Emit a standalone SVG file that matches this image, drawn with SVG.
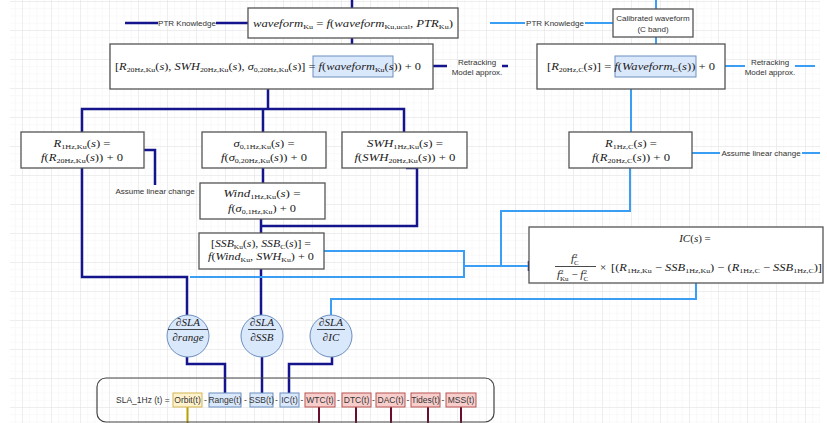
<svg xmlns="http://www.w3.org/2000/svg" width="827" height="423" viewBox="0 0 827 423">
<style>
.box{fill:#fff;stroke:#555;stroke-width:1.3}
.hb{fill:#dae8fc;stroke:#6c8ebf;stroke-width:1}
.hy{fill:#fff2cc;stroke:#d6b656;stroke-width:1}
.hr{fill:#f8cecc;stroke:#b85450;stroke-width:1}
.circ{fill:#dae8fc;stroke:#6c8ebf;stroke-width:1}
.d{fill:none;stroke:#14148c;stroke-width:2.5}
.l{fill:none;stroke:#3b9ef5;stroke-width:2}
.m{font-family:"Liberation Serif","DejaVu Serif",serif;font-size:11px;fill:#1a1a1a}
.i{font-style:italic}
.s{font-size:7px;font-style:normal}
.t{font-family:"Liberation Sans",Arial,sans-serif;font-size:8px;fill:#333}
.b{font-family:"Liberation Sans",Arial,sans-serif;font-size:8.5px;fill:#333}
</style>
<defs>
<pattern id="gmin" width="7.25" height="7.25" patternUnits="userSpaceOnUse" x="22" y="1"><path d="M0 0V7.25M0 0H7.25" stroke="#f3f3f3" stroke-width="1" fill="none"/></pattern>
<pattern id="gmaj" width="29" height="29" patternUnits="userSpaceOnUse" x="22" y="1"><path d="M0 0V29M0 0H29" stroke="#e3e3e3" stroke-width="1" fill="none"/></pattern>
</defs>
<rect width="827" height="423" fill="#fff"/>
<rect x="10" y="0" width="810" height="423" fill="url(#gmin)"/>
<rect x="10" y="0" width="810" height="423" fill="url(#gmaj)"/>

<g id="connectors">
<path class="d" d="M352,0V8"/>
<path class="d" d="M125,23H158M216,23H248"/>
<path class="d" d="M352,38V44"/>
<path class="d" d="M433,66H447M502,66H508"/>
<path class="d" d="M268,89V109M82,132V109H404V132M263,109V132"/>
<path class="d" d="M144,150H155V185"/>
<path class="d" d="M263,168V183"/>
<path class="d" d="M406,168H417V226H261M261,219V233"/>
<path class="d" d="M82,168V277H187V315"/>
<path class="d" d="M261,269V315"/>
<path class="d" d="M187,357V364H225V393"/>
<path class="d" d="M262,357V393"/>
<path class="d" d="M332,357V364H289V393"/>
<path class="d" d="M529,261V271" stroke-width="2"/>
<path class="l" d="M656,0V9"/>
<path class="l" d="M490,23H525M585,23H613"/>
<path class="l" d="M656,37V44"/>
<path class="l" d="M725,66H745M795,66H815"/>
<path class="l" d="M631,89V132"/>
<path class="l" d="M692,153H720M802,153H820"/>
<path class="l" d="M630,168V211H501V266"/>
<path class="l" d="M324,251H464V277H190"/>
<path class="l" d="M464,266H528"/>
<path class="l" d="M696,283V299H331V315"/>
<path d="M187.5,407V423" stroke="#b5a000" stroke-width="2"/>
<path d="M319,407V423M356,407V423M391,407V423M428,407V423M461,407V423" stroke="#6a0d2e" stroke-width="2"/>
</g>

<g id="labels">
<text class="t" x="187" y="26" text-anchor="middle">PTR Knowledge</text>
<text class="t" x="555" y="26" text-anchor="middle">PTR Knowledge</text>
<text class="t" x="477" y="65" text-anchor="middle" font-size="7.5">Retracking</text>
<text class="t" x="477" y="75" text-anchor="middle" font-size="7.5">Model approx.</text>
<text class="t" x="770" y="65" text-anchor="middle" font-size="7.5">Retracking</text>
<text class="t" x="770" y="75" text-anchor="middle" font-size="7.5">Model approx.</text>
<text class="t" x="155" y="194" text-anchor="middle">Assume linear change</text>
<text class="t" x="761" y="156" text-anchor="middle">Assume linear change</text>
</g>

<g id="n-waveform-ku">
<rect class="box" x="248" y="8" width="210" height="30"/>
<text class="m" x="353" y="27" text-anchor="middle" textLength="200" lengthAdjust="spacingAndGlyphs"><tspan class="i">waveform</tspan><tspan class="s" dy="2">Ku</tspan><tspan dy="-2"> = </tspan><tspan class="i">f</tspan><tspan>(</tspan><tspan class="i">waveform</tspan><tspan class="s" dy="2">Ku,ucal</tspan><tspan dy="-2">, </tspan><tspan class="i">PTR</tspan><tspan class="s" dy="2">Ku</tspan><tspan dy="-2">)</tspan></text>
</g>

<g id="n-retrack-ku">
<rect class="box" x="110" y="44" width="323" height="45"/>
<rect class="hb" x="313" y="56" width="80" height="21"/>
<text class="m" x="268" y="70" text-anchor="middle" textLength="306" lengthAdjust="spacingAndGlyphs"><tspan>[</tspan><tspan class="i">R</tspan><tspan class="s" dy="2">20Hz,Ku</tspan><tspan dy="-2">(</tspan><tspan class="i">s</tspan><tspan>), </tspan><tspan class="i">SWH</tspan><tspan class="s" dy="2">20Hz,Ku</tspan><tspan dy="-2">(</tspan><tspan class="i">s</tspan><tspan>), </tspan><tspan class="i">σ</tspan><tspan class="s" dy="2">0,20Hz,Ku</tspan><tspan dy="-2">(</tspan><tspan class="i">s</tspan><tspan>)] = </tspan><tspan class="i">f</tspan><tspan>(</tspan><tspan class="i">waveform</tspan><tspan class="s" dy="2">Ku</tspan><tspan dy="-2">(</tspan><tspan class="i">s</tspan><tspan>)) + 0</tspan></text>
</g>

<g id="n-r1hz-ku">
<rect class="box" x="21" y="132" width="123" height="36"/>
<text class="m" x="82" y="147" text-anchor="middle" textLength="57" lengthAdjust="spacingAndGlyphs"><tspan class="i">R</tspan><tspan class="s" dy="2">1Hz,Ku</tspan><tspan dy="-2">(</tspan><tspan class="i">s</tspan><tspan>) =</tspan></text>
<text class="m" x="82" y="161" text-anchor="middle" textLength="82" lengthAdjust="spacingAndGlyphs"><tspan class="i">f</tspan><tspan>(</tspan><tspan class="i">R</tspan><tspan class="s" dy="2">20Hz,Ku</tspan><tspan dy="-2">(</tspan><tspan class="i">s</tspan><tspan>)) + 0</tspan></text>
</g>

<g id="n-sigma">
<rect class="box" x="202" y="132" width="124" height="36"/>
<text class="m" x="264" y="147" text-anchor="middle" textLength="61" lengthAdjust="spacingAndGlyphs"><tspan class="i">σ</tspan><tspan class="s" dy="2">0,1Hz,Ku</tspan><tspan dy="-2">(</tspan><tspan class="i">s</tspan><tspan>) =</tspan></text>
<text class="m" x="264" y="161" text-anchor="middle" textLength="86" lengthAdjust="spacingAndGlyphs"><tspan class="i">f</tspan><tspan>(</tspan><tspan class="i">σ</tspan><tspan class="s" dy="2">0,20Hz,Ku</tspan><tspan dy="-2">(</tspan><tspan class="i">s</tspan><tspan>)) + 0</tspan></text>
</g>

<g id="n-swh">
<rect class="box" x="342" y="132" width="125" height="36"/>
<text class="m" x="405" y="147" text-anchor="middle" textLength="76" lengthAdjust="spacingAndGlyphs"><tspan class="i">SWH</tspan><tspan class="s" dy="2">1Hz,Ku</tspan><tspan dy="-2">(</tspan><tspan class="i">s</tspan><tspan>) =</tspan></text>
<text class="m" x="405" y="161" text-anchor="middle" textLength="101" lengthAdjust="spacingAndGlyphs"><tspan class="i">f</tspan><tspan>(</tspan><tspan class="i">SWH</tspan><tspan class="s" dy="2">20Hz,Ku</tspan><tspan dy="-2">(</tspan><tspan class="i">s</tspan><tspan>)) + 0</tspan></text>
</g>

<g id="n-wind">
<rect class="box" x="200" y="183" width="125" height="36"/>
<text class="m" x="262" y="197" text-anchor="middle" textLength="77" lengthAdjust="spacingAndGlyphs"><tspan class="i">Wind</tspan><tspan class="s" dy="2">1Hz,Ku</tspan><tspan dy="-2">(</tspan><tspan class="i">s</tspan><tspan>) =</tspan></text>
<text class="m" x="262" y="212" text-anchor="middle" textLength="68" lengthAdjust="spacingAndGlyphs"><tspan class="i">f</tspan><tspan>(</tspan><tspan class="i">σ</tspan><tspan class="s" dy="2">0,1Hz,Ku</tspan><tspan dy="-2">) + 0</tspan></text>
</g>

<g id="n-ssb">
<rect class="box" x="199" y="233" width="125" height="36"/>
<text class="m" x="261" y="247" text-anchor="middle" textLength="100" lengthAdjust="spacingAndGlyphs"><tspan>[</tspan><tspan class="i">SSB</tspan><tspan class="s" dy="2">Ku</tspan><tspan dy="-2">(</tspan><tspan class="i">s</tspan><tspan>), </tspan><tspan class="i">SSB</tspan><tspan class="s" dy="2">C</tspan><tspan dy="-2">(</tspan><tspan class="i">s</tspan><tspan>)] =</tspan></text>
<text class="m" x="261" y="260" text-anchor="middle" textLength="106" lengthAdjust="spacingAndGlyphs"><tspan class="i">f</tspan><tspan>(</tspan><tspan class="i">Wind</tspan><tspan class="s" dy="2">Ku</tspan><tspan dy="-2">, </tspan><tspan class="i">SWH</tspan><tspan class="s" dy="2">Ku</tspan><tspan dy="-2">) + 0</tspan></text>
</g>

<g id="n-calib-c">
<rect class="box" x="613" y="9" width="80" height="28"/>
<text class="t" x="653" y="21" text-anchor="middle">Calibrated waveform</text>
<text class="t" x="653" y="32" text-anchor="middle">(C band)</text>
</g>

<g id="n-retrack-c">
<rect class="box" x="537" y="44" width="188" height="45"/>
<rect class="hb" x="615" y="56" width="81" height="21"/>
<text class="m" x="631" y="70" text-anchor="middle" textLength="168" lengthAdjust="spacingAndGlyphs"><tspan>[</tspan><tspan class="i">R</tspan><tspan class="s" dy="2">20Hz,C</tspan><tspan dy="-2">(</tspan><tspan class="i">s</tspan><tspan>)] = </tspan><tspan class="i">f</tspan><tspan>(</tspan><tspan class="i">Waveform</tspan><tspan class="s" dy="2">C</tspan><tspan dy="-2">(</tspan><tspan class="i">s</tspan><tspan>)) + 0</tspan></text>
</g>

<g id="n-r1hz-c">
<rect class="box" x="569" y="132" width="123" height="36"/>
<text class="m" x="631" y="147" text-anchor="middle" textLength="52" lengthAdjust="spacingAndGlyphs"><tspan class="i">R</tspan><tspan class="s" dy="2">1Hz,C</tspan><tspan dy="-2">(</tspan><tspan class="i">s</tspan><tspan>) =</tspan></text>
<text class="m" x="631" y="161" text-anchor="middle" textLength="78" lengthAdjust="spacingAndGlyphs"><tspan class="i">f</tspan><tspan>(</tspan><tspan class="i">R</tspan><tspan class="s" dy="2">20Hz,C</tspan><tspan dy="-2">(</tspan><tspan class="i">s</tspan><tspan>)) + 0</tspan></text>
</g>

<g id="n-ic">
<rect class="box" x="529" y="227" width="294" height="56"/>
<text class="m" x="695" y="242" text-anchor="middle"><tspan class="i">IC</tspan><tspan>(</tspan><tspan class="i">s</tspan><tspan>) =</tspan></text>
<text class="m" x="571" y="262"><tspan class="i">f</tspan><tspan class="s" dy="-4">2</tspan><tspan class="s" dx="-3.5" dy="7">C</tspan></text>
<line x1="555" y1="266.5" x2="596" y2="266.5" stroke="#1a1a1a" stroke-width="0.8"/>
<text class="m" x="557" y="278"><tspan class="i">f</tspan><tspan class="s" dy="-4">2</tspan><tspan class="s" dx="-3.5" dy="7">Ku</tspan><tspan dy="-3"> − </tspan><tspan class="i">f</tspan><tspan class="s" dy="-4">2</tspan><tspan class="s" dx="-3.5" dy="7">C</tspan></text>
<text class="m" x="600" y="271">×</text>
<text class="m" x="611" y="271" textLength="211" lengthAdjust="spacingAndGlyphs"><tspan>[(</tspan><tspan class="i">R</tspan><tspan class="s" dy="2">1Hz,Ku</tspan><tspan dy="-2"> − </tspan><tspan class="i">SSB</tspan><tspan class="s" dy="2">1Hz,Ku</tspan><tspan dy="-2">) − (</tspan><tspan class="i">R</tspan><tspan class="s" dy="2">1Hz,C</tspan><tspan dy="-2"> − </tspan><tspan class="i">SSB</tspan><tspan class="s" dy="2">1Hz,C</tspan><tspan dy="-2">)]</tspan></text>
</g>

<g id="n-dsla-range">
<circle class="circ" cx="188" cy="336" r="21"/>
<text class="m i" x="188" y="326" text-anchor="middle" font-size="10.5">∂SLA</text>
<line x1="168" y1="329.5" x2="208" y2="329.5" stroke="#1a1a1a" stroke-width="0.8"/>
<text class="m i" x="188" y="341" text-anchor="middle" font-size="10.5">∂range</text>
</g>
<g id="n-dsla-ssb">
<circle class="circ" cx="262" cy="336" r="21"/>
<text class="m i" x="262" y="326" text-anchor="middle" font-size="10.5">∂SLA</text>
<line x1="248" y1="329.5" x2="276" y2="329.5" stroke="#1a1a1a" stroke-width="0.8"/>
<text class="m i" x="262" y="341" text-anchor="middle" font-size="10.5">∂SSB</text>
</g>
<g id="n-dsla-ic">
<circle class="circ" cx="331" cy="336" r="21"/>
<text class="m i" x="331" y="326" text-anchor="middle" font-size="10.5">∂SLA</text>
<line x1="317" y1="329.5" x2="345" y2="329.5" stroke="#1a1a1a" stroke-width="0.8"/>
<text class="m i" x="331" y="341" text-anchor="middle" font-size="10.5">∂IC</text>
</g>

<g id="n-sla">
<rect x="97" y="378" width="397" height="44" rx="9" fill="none" stroke="#444" stroke-width="1.2"/>
<rect class="hy" x="173" y="393" width="29" height="14"/>
<rect class="hb" x="209" y="393" width="32" height="14"/>
<rect class="hb" x="250" y="393" width="23" height="14"/>
<rect class="hb" x="280" y="393" width="19" height="14"/>
<rect class="hr" x="305" y="393" width="30" height="14"/>
<rect class="hr" x="342" y="393" width="29" height="14"/>
<rect class="hr" x="376" y="393" width="29" height="14"/>
<rect class="hr" x="411" y="393" width="29" height="14"/>
<rect class="hr" x="446" y="393" width="30" height="14"/>
<text class="b" x="116" y="403">SLA_1Hz (t) = </text>
<text class="b" x="187.5" y="403" text-anchor="middle">Orbit(t)</text>
<text class="b" x="205.5" y="403" text-anchor="middle">-</text>
<text class="b" x="225" y="403" text-anchor="middle">Range(t)</text>
<text class="b" x="245.5" y="403" text-anchor="middle">-</text>
<text class="b" x="261.5" y="403" text-anchor="middle">SSB(t)</text>
<text class="b" x="276.5" y="403" text-anchor="middle">-</text>
<text class="b" x="289.5" y="403" text-anchor="middle">IC(t)</text>
<text class="b" x="302" y="403" text-anchor="middle">-</text>
<text class="b" x="320" y="403" text-anchor="middle">WTC(t)</text>
<text class="b" x="338.5" y="403" text-anchor="middle">-</text>
<text class="b" x="356.5" y="403" text-anchor="middle">DTC(t)</text>
<text class="b" x="373.5" y="403" text-anchor="middle">-</text>
<text class="b" x="390.5" y="403" text-anchor="middle">DAC(t)</text>
<text class="b" x="408" y="403" text-anchor="middle">-</text>
<text class="b" x="425.5" y="403" text-anchor="middle">Tides(t)</text>
<text class="b" x="443" y="403" text-anchor="middle">-</text>
<text class="b" x="461" y="403" text-anchor="middle">MSS(t)</text>
</g>
</svg>
